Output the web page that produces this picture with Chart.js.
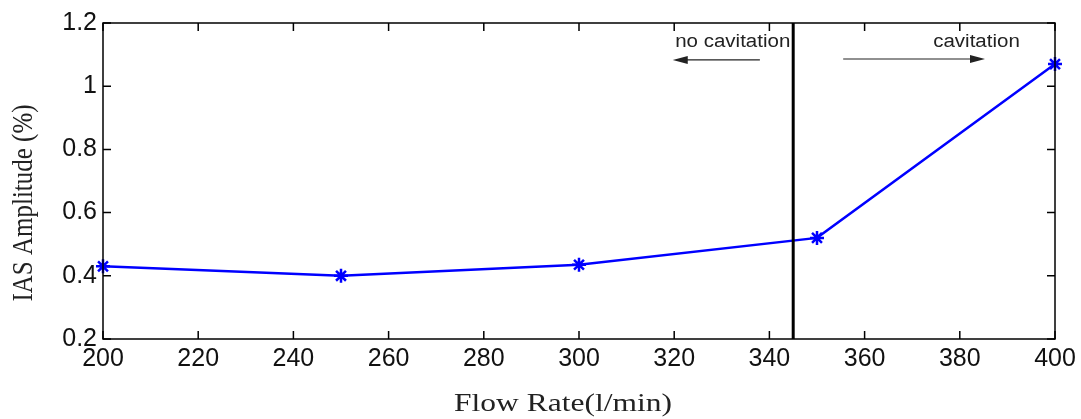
<!DOCTYPE html>
<html>
<head>
<meta charset="utf-8">
<script src="https://cdn.jsdelivr.net/npm/chart.js@4/dist/chart.umd.min.js"></script>
<style>
html,body{margin:0;padding:0;background:#fff;}
#wrap{width:1081px;height:419px;position:relative;}
</style>
</head>
<body>
<div id="wrap"><canvas id="c" width="1081" height="419"></canvas></div>
<script>
const flowRates = [200, 250, 300, 350, 400];
const iasAmplitude = [0.43, 0.40, 0.435, 0.52, 1.07];
const xTickValues = [200, 220, 240, 260, 280, 300, 320, 340, 360, 380, 400];
const yTickValues = [0.2, 0.4, 0.6, 0.8, 1.0, 1.2];
const thresholdFlow = 345;
const xTitle = 'Flow Rate(l/min)';
const yTitle = 'IAS Amplitude (%)';
const annotations = [
  {text: 'no cavitation', x: 320.2, y: 1.14, arrowFrom: 338, arrowTo: 319.7, arrowY: 1.083},
  {text: 'cavitation', x: 374.4, y: 1.14, arrowFrom: 355.5, arrowTo: 385.3, arrowY: 1.086}
];

const framePlugin = {
  id: 'framePlugin',
  afterDatasetsDraw(chart) {
    const {ctx, chartArea: a, scales: {x, y}} = chart;
    ctx.save();
    // vertical threshold line
    const vx = x.getPixelForValue(thresholdFlow);
    ctx.strokeStyle = '#000';
    ctx.lineWidth = 3;
    ctx.beginPath();
    ctx.moveTo(vx, a.top);
    ctx.lineTo(vx, a.bottom);
    ctx.stroke();
    // frame
    ctx.lineWidth = 1.5;
    ctx.strokeRect(a.left, a.top, a.right - a.left, a.bottom - a.top);
    // inward ticks
    const tl = 8;
    ctx.beginPath();
    xTickValues.forEach(v => {
      const px = x.getPixelForValue(v);
      ctx.moveTo(px, a.bottom); ctx.lineTo(px, a.bottom - tl);
      ctx.moveTo(px, a.top); ctx.lineTo(px, a.top + tl);
    });
    yTickValues.forEach(v => {
      const py = y.getPixelForValue(v);
      ctx.moveTo(a.left, py); ctx.lineTo(a.left + tl, py);
      ctx.moveTo(a.right, py); ctx.lineTo(a.right - tl, py);
    });
    ctx.stroke();
    // annotations
    ctx.font = '18px "Liberation Sans", Arial, sans-serif';
    ctx.fillStyle = '#222';
    ctx.textBaseline = 'middle';
    ctx.textAlign = 'left';
    annotations.forEach(an => {
      ctx.save();
      ctx.translate(x.getPixelForValue(an.x), y.getPixelForValue(an.y));
      ctx.scale(1.14, 1);
      ctx.fillText(an.text, 0, 0);
      ctx.restore();
      const x0 = x.getPixelForValue(an.arrowFrom);
      const x1 = x.getPixelForValue(an.arrowTo);
      const ay = y.getPixelForValue(an.arrowY);
      const dir = Math.sign(x1 - x0);
      ctx.strokeStyle = '#222';
      ctx.lineWidth = 1.2;
      ctx.beginPath();
      ctx.moveTo(x0, ay);
      ctx.lineTo(x1 - dir * 10, ay);
      ctx.stroke();
      ctx.beginPath();
      ctx.moveTo(x1, ay);
      ctx.lineTo(x1 - dir * 15, ay - 4);
      ctx.lineTo(x1 - dir * 15, ay + 4);
      ctx.closePath();
      ctx.fill();
    });
    // axis titles (slightly widened like the reference)
    ctx.fillStyle = '#222';
    ctx.font = '25px "Liberation Serif", "Times New Roman", serif';
    ctx.textAlign = 'center';
    ctx.textBaseline = 'middle';
    ctx.save();
    ctx.translate(563, 404);
    ctx.scale(1.26, 1);
    ctx.fillText(xTitle, 0, 0);
    ctx.restore();
    ctx.save();
    ctx.translate(24, 203);
    ctx.rotate(-Math.PI / 2);
    ctx.scale(1, 1.2);
    ctx.fillText(yTitle, 0, 0);
    ctx.restore();
    ctx.restore();
  }
};

new Chart(document.getElementById('c'), {
  type: 'line',
  data: {
    datasets: [{
      data: flowRates.map((f, i) => ({x: f, y: iasAmplitude[i]})),
      borderColor: '#0000ff',
      backgroundColor: '#0000ff',
      borderWidth: 2.5,
      pointStyle: 'star',
      pointRadius: 7,
      pointBorderWidth: 2.5,
      pointBorderColor: '#0000ff',
      tension: 0,
      clip: false
    }]
  },
  options: {
    responsive: false,
    animation: false,
    devicePixelRatio: 1,
    layout: {padding: {top: 23, right: 26, left: 0, bottom: 0}},
    plugins: {legend: {display: false}, tooltip: {enabled: false}},
    scales: {
      x: {
        type: 'linear',
        min: 200, max: 400,
        afterBuildTicks: s => { s.ticks = xTickValues.map(v => ({value: v})); },
        afterFit: s => { s.height = 80; },
        grid: {display: false, tickLength: 0, drawTicks: false},
        border: {display: false},
        ticks: {
          color: '#111',
          padding: 5,
          maxRotation: 0,
          font: {family: '"Liberation Sans", Arial, sans-serif', size: 25}
        },
        title: {display: false}
      },
      y: {
        min: 0.2, max: 1.2,
        afterBuildTicks: s => { s.ticks = yTickValues.map(v => ({value: v})); },
        afterFit: s => { s.width = 103; },
        grid: {display: false, tickLength: 0, drawTicks: false},
        border: {display: false},
        ticks: {
          color: '#111',
          padding: 6,
          font: {family: '"Liberation Sans", Arial, sans-serif', size: 25},
          callback: v => String(Math.round(v * 10) / 10)
        },
        title: {display: false}
      }
    }
  },
  plugins: [framePlugin]
});
</script>
</body>
</html>
